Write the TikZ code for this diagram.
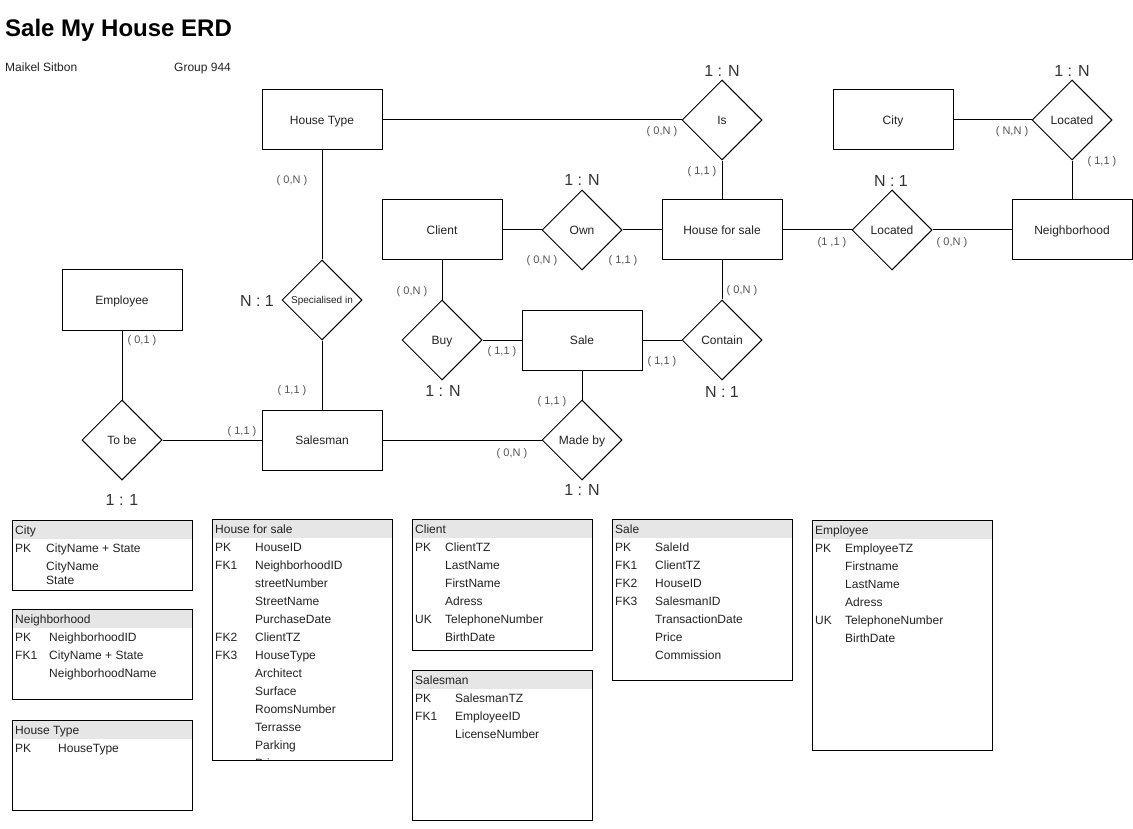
\documentclass[tikz,border=0pt]{standalone}
\usepackage{fontspec}
\setmainfont{Liberation Sans}
\usetikzlibrary{shapes.geometric}
\definecolor{cardgray}{HTML}{555555}
\definecolor{ratiogray}{HTML}{333333}
\definecolor{labeldark}{HTML}{222222}
\definecolor{headfill}{HTML}{E6E6E6}
\tikzset{
  entity/.style={draw, line width=1pt, minimum width=120pt, minimum height=60pt,
    text height=8.6pt, text depth=0pt, text=labeldark, font=\fontsize{12}{14}\selectfont},
  relation/.style={draw, line width=1pt, diamond, aspect=1, minimum width=80pt,
    minimum height=80pt, inner sep=0pt, text height=8.6pt, text depth=0pt,
    text=labeldark, font=\fontsize{12}{14}\selectfont},
  link/.style={line width=1pt},
  card/.style={text=cardgray, inner sep=0pt, font=\fontsize{11}{13}\selectfont},
  ratio/.style={text=ratiogray, inner sep=0pt, font=\fontsize{16}{19}\selectfont},
  field/.style={anchor=base west, inner sep=0pt, text=labeldark, font=\fontsize{12}{14}\selectfont},
  tablebox/.style={draw, line width=1pt}
}
\begin{document}
\begin{tikzpicture}[x=1pt, y=-1pt]
  \useasboundingbox (0,0) rectangle (1133,829);
  % heading
  \node[anchor=base west, inner sep=0pt, font=\fontsize{24}{28}\selectfont\bfseries] (title) at (5,37) {Sale My House ERD};
  \node[field] (author) at (5,72) {Maikel Sitbon};
  \node[field] (group) at (174,72) {Group 944};

  % entities
  \node[entity] (house type) at (322,120) {House Type};
  \node[entity] (client) at (442,230) {Client};
  \node[entity] (house for sale) at (722,230) {House for sale};
  \node[entity] (city) at (893,120) {City};
  \node[entity] (neighborhood) at (1072,230) {Neighborhood};
  \node[entity] (employee) at (122,300) {Employee};
  \node[entity] (sale) at (582,340) {Sale};
  \node[entity] (salesman) at (322,440) {Salesman};

  % relationships
  \node[relation] (is) at (722,120) {Is};
  \node[relation] (own) at (582,230) {Own};
  \node[relation] (located city) at (1072,120) {Located};
  \node[relation] (located house) at (892,230) {Located};
  \node[relation, text height=7.2pt, font=\fontsize{10}{12}\selectfont] (specialised) at (322,300) {Specialised in};
  \node[relation] (buy) at (442,340) {Buy};
  \node[relation] (contain) at (722,340) {Contain};
  \node[relation] (to be) at (122,440) {To be};
  \node[relation] (made by) at (582,440) {Made by};

  % connectors
  \draw[link] (house type) -- (is);
  \draw[link] (is) -- (house for sale);
  \draw[link] (client) -- (own);
  \draw[link] (own) -- (house for sale);
  \draw[link] (house for sale) -- (located house);
  \draw[link] (located house) -- (neighborhood);
  \draw[link] (city) -- (located city);
  \draw[link] (located city) -- (neighborhood);
  \draw[link] (house type) -- (specialised);
  \draw[link] (specialised) -- (salesman);
  \draw[link] (client) -- (buy);
  \draw[link] (buy) -- (sale);
  \draw[link] (sale) -- (contain);
  \draw[link] (contain) -- (house for sale);
  \draw[link] (sale) -- (made by);
  \draw[link] (made by) -- (salesman);
  \draw[link] (employee) -- (to be);
  \draw[link] (to be) -- (salesman);

  % cardinalities
  \foreach \px/\py/\t [count=\i] in {662/132/{( 0,N )}, 702/172/{( 1,1 )}, 292/181/{( 0,N )},
      542/261/{( 0,N )}, 623/261/{( 1,1 )}, 832/243/{(1 ,1 )}, 952/243/{( 0,N )},
      1012/132/{( N,N )}, 1102/162/{( 1,1 )}, 142/341/{( 0,1 )}, 292/391/{( 1,1 )},
      242/432/{( 1,1 )}, 412/292/{( 0,N )}, 502/352/{( 1,1 )}, 742/291/{( 0,N )},
      662/362/{( 1,1 )}, 552/402/{( 1,1 )}, 512/454/{( 0,N )}}
    \node[card] (card \i) at (\px,\py) {\t};
  \foreach \px/\py/\t [count=\i] in {722/71/1 : N, 582/180/1 : N, 1072/71/1 : N,
      891/181/N : 1, 257/301/N : 1, 122/500/1 : 1, 443/391/1 : N, 722/392/N : 1, 582/490/1 : N}
    \node[ratio] (ratio \i) at (\px,\py) {\t};

  % tables
  \fill[headfill] (12,520) rectangle (192,539);
  \draw[tablebox] (12,520) rectangle (192,590);
  \node[field] (city head) at (15,534) {City};
  \node[field] (city key 1) at (15,552) {PK};
  \node[field] (city attr 1) at (46,552) {CityName + State};
  \node[field] (city attr 2) at (46,570) {CityName};
  \node[field] (city attr 3) at (46,584) {State};

  \fill[headfill] (12,609) rectangle (192,628);
  \draw[tablebox] (12,609) rectangle (192,699);
  \node[field] (nb head) at (15,623) {Neighborhood};
  \foreach \k/\a [count=\i] in {PK/NeighborhoodID, FK1/CityName + State, /NeighborhoodName}
    {\node[field] (nb key \i) at (15,623+18*\i) {\k};
     \node[field] (nb attr \i) at (49,623+18*\i) {\a};}

  \fill[headfill] (12,720) rectangle (192,739);
  \draw[tablebox] (12,720) rectangle (192,810);
  \node[field] (ht head) at (15,734) {House Type};
  \node[field] (ht key 1) at (15,752) {PK};
  \node[field] (ht attr 1) at (58,752) {HouseType};

  \fill[headfill] (212,519) rectangle (392,538);
  \begin{scope}
    \clip (212,519) rectangle (392,760);
    \foreach \k/\a [count=\i] in {PK/HouseID, FK1/NeighborhoodID, /streetNumber, /StreetName,
        /PurchaseDate, FK2/ClientTZ, FK3/HouseType, /Architect, /Surface, /RoomsNumber,
        /Terrasse, /Parking, /Price}
      {\node[field] (hfs key \i) at (215,533+18*\i) {\k};
       \node[field] (hfs attr \i) at (255,533+18*\i) {\a};}
  \end{scope}
  \draw[tablebox] (212,519) rectangle (392,760);
  \node[field] (hfs head) at (215,533) {House for sale};

  \fill[headfill] (412,519) rectangle (592,538);
  \draw[tablebox] (412,519) rectangle (592,650);
  \node[field] (client head) at (415,533) {Client};
  \foreach \k/\a [count=\i] in {PK/ClientTZ, /LastName, /FirstName, /Adress, UK/TelephoneNumber, /BirthDate}
    {\node[field] (client key \i) at (415,533+18*\i) {\k};
     \node[field] (client attr \i) at (445,533+18*\i) {\a};}

  \fill[headfill] (412,670) rectangle (592,689);
  \draw[tablebox] (412,670) rectangle (592,820);
  \node[field] (sm head) at (415,684) {Salesman};
  \foreach \k/\a [count=\i] in {PK/SalesmanTZ, FK1/EmployeeID, /LicenseNumber}
    {\node[field] (sm key \i) at (415,684+18*\i) {\k};
     \node[field] (sm attr \i) at (455,684+18*\i) {\a};}

  \fill[headfill] (612,519) rectangle (792,538);
  \draw[tablebox] (612,519) rectangle (792,680);
  \node[field] (sale head) at (615,533) {Sale};
  \foreach \k/\a [count=\i] in {PK/SaleId, FK1/ClientTZ, FK2/HouseID, FK3/SalesmanID,
      /TransactionDate, /Price, /Commission}
    {\node[field] (sale key \i) at (615,533+18*\i) {\k};
     \node[field] (sale attr \i) at (655,533+18*\i) {\a};}

  \fill[headfill] (812,520) rectangle (992,539);
  \draw[tablebox] (812,520) rectangle (992,750);
  \node[field] (emp head) at (815,534) {Employee};
  \foreach \k/\a [count=\i] in {PK/EmployeeTZ, /Firstname, /LastName, /Adress, UK/TelephoneNumber, /BirthDate}
    {\node[field] (emp key \i) at (815,534+18*\i) {\k};
     \node[field] (emp attr \i) at (845,534+18*\i) {\a};}
\end{tikzpicture}
\end{document}
